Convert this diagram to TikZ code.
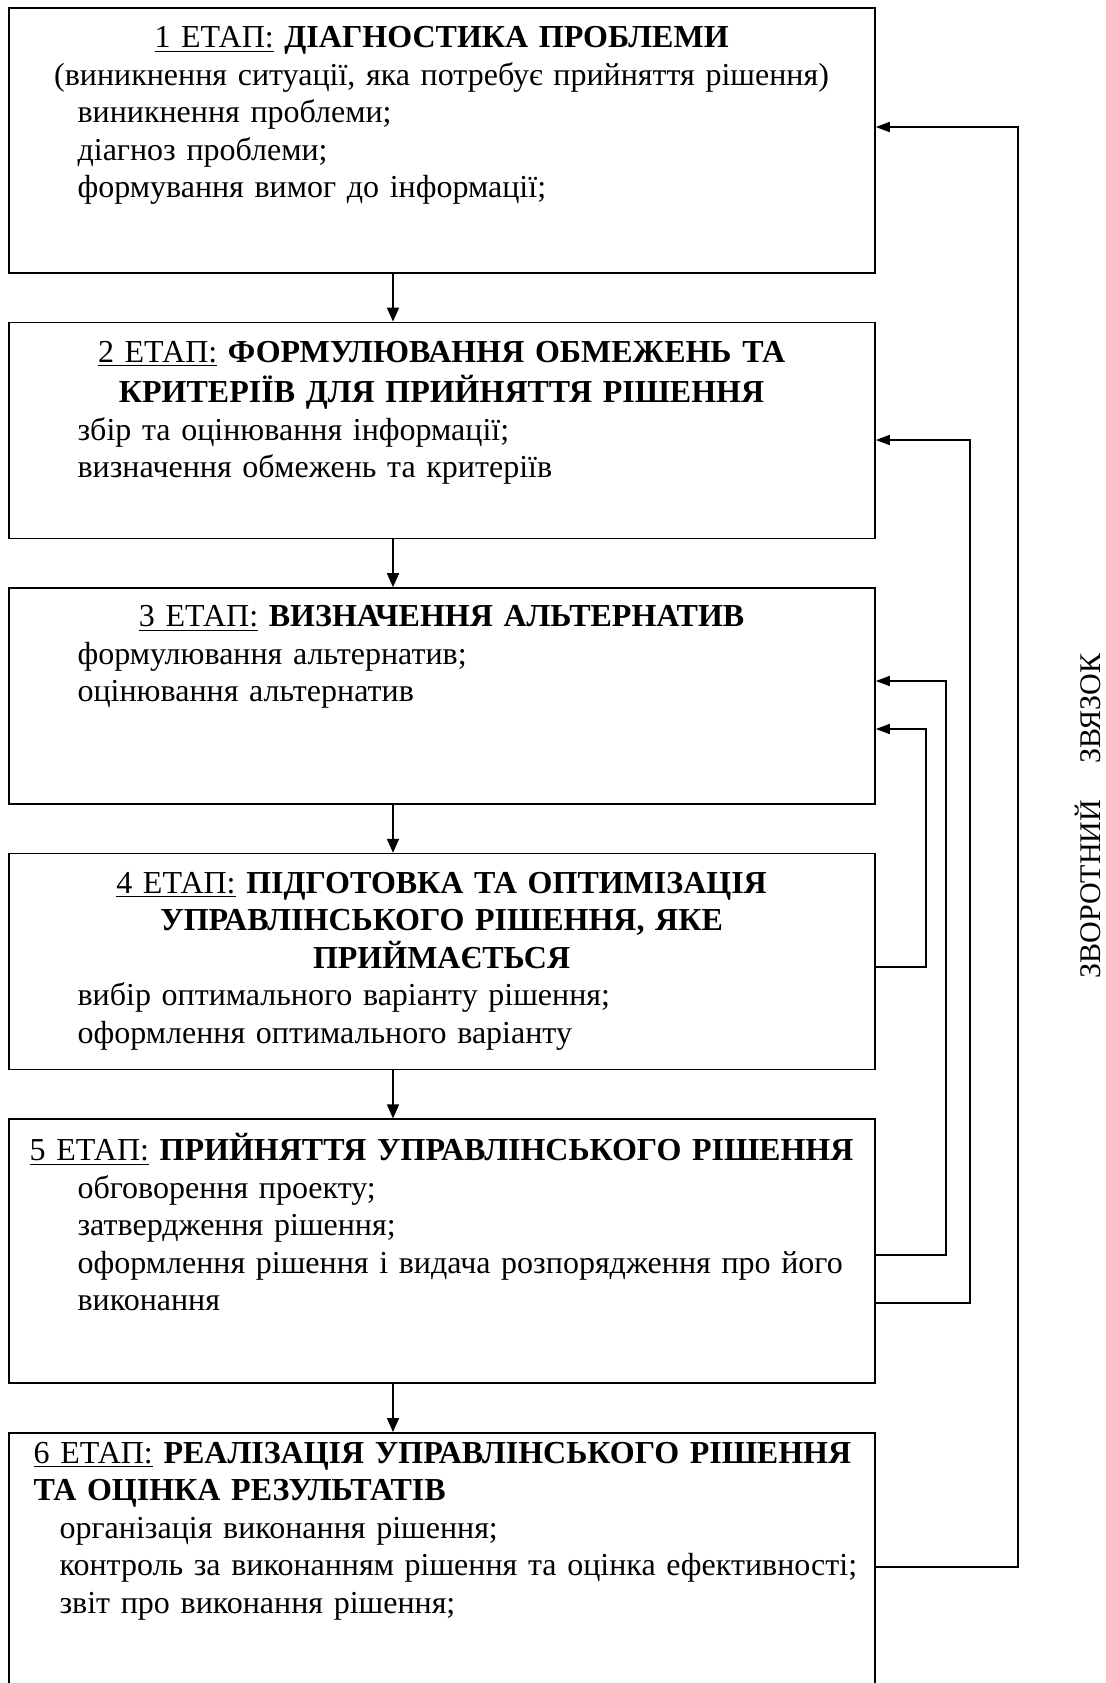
\documentclass[tikz,border=0pt]{standalone}
\usepackage{fontspec}
\setmainfont{Liberation Serif}
\usetikzlibrary{arrows.meta,positioning}

\begin{document}
\begin{tikzpicture}[
  x=0.5pt,y=-0.5pt,
  stage/.style={draw,line width=0.8pt,minimum width=433pt,inner sep=0pt},
  txt/.style={anchor=north west,inner sep=0pt,text width=433pt,
              font=\fontsize{16}{18.75}\selectfont},
  flow/.style={line width=0.8pt,-{Triangle[length=7pt,width=6pt]}},
  back/.style={line width=0.8pt,-{Triangle[length=7pt,width=5pt]}},
]
  \useasboundingbox (0,0) rectangle (1105,1683);
  \clip (0,0) rectangle (1105,1683);

  % Stage boxes
  \node[stage,minimum height=132.5pt,anchor=north] (b1) at (442,7) {};
  \node[stage,minimum height=108pt,below=24pt of b1] (b2) {};
  \node[stage,minimum height=108pt,below=24pt of b2] (b3) {};
  \node[stage,minimum height=108pt,below=24pt of b3] (b4) {};
  \node[stage,minimum height=132pt,below=24pt of b4] (b5) {};
  \node[stage,minimum height=140pt,below=24pt of b5] (b6) {};

  % Stage texts
  \node[txt] (t1) at ([yshift=-7pt]b1.north west) {%
    {\centering\strut\underline{1 ЕТАП:} \textbf{ДІАГНОСТИКА ПРОБЛЕМИ}\\
    (виникнення ситуації, яка потребує прийняття рішення)\par}
    \raggedright\leftskip=34.5pt
    виникнення проблеми;\\
    діагноз проблеми;\\
    формування вимог до інформації;\par};
  \node[txt] (t2) at ([yshift=-7pt]b2.north west) {%
    {\centering\strut\underline{2 ЕТАП:} \textbf{ФОРМУЛЮВАННЯ ОБМЕЖЕНЬ ТА}\\
    \textbf{КРИТЕРІЇВ ДЛЯ ПРИЙНЯТТЯ РІШЕННЯ}\par}
    \raggedright\leftskip=34.5pt
    збір та оцінювання інформації;\\
    визначення обмежень та критеріїв\par};
  \node[txt] (t3) at ([yshift=-6.5pt]b3.north west) {%
    {\centering\strut\underline{3 ЕТАП:} \textbf{ВИЗНАЧЕННЯ АЛЬТЕРНАТИВ}\par}
    \raggedright\leftskip=34.5pt
    формулювання альтернатив;\\
    оцінювання альтернатив\par};
  \node[txt] (t4) at ([yshift=-7pt]b4.north west) {%
    {\centering\strut\underline{4 ЕТАП:} \textbf{ПІДГОТОВКА ТА ОПТИМІЗАЦІЯ}\\
    \textbf{УПРАВЛІНСЬКОГО РІШЕННЯ, ЯКЕ}\\
    \textbf{ПРИЙМАЄТЬСЯ}\par}
    \raggedright\leftskip=34.5pt
    вибір оптимального варіанту рішення;\\
    оформлення оптимального варіанту\par};
  \node[txt] (t5) at ([yshift=-7.4pt]b5.north west) {%
    {\centering\strut\underline{5 ЕТАП:} \textbf{ПРИЙНЯТТЯ УПРАВЛІНСЬКОГО РІШЕННЯ}\par}
    \raggedright\leftskip=34.5pt
    обговорення проекту;\\
    затвердження рішення;\\
    оформлення рішення і видача розпорядження про його\\
    виконання\par};
  \node[txt] (t6) at ([yshift=-2.4pt]b6.north west) {%
    {\raggedright\leftskip=12.5pt
    \strut\underline{6 ЕТАП:} \textbf{РЕАЛІЗАЦІЯ УПРАВЛІНСЬКОГО РІШЕННЯ}\\
    \textbf{ТА ОЦІНКА РЕЗУЛЬТАТІВ}\par}
    \raggedright\leftskip=25.5pt
    організація виконання рішення;\\
    контроль за виконанням рішення та оцінка ефективності;\\
    звіт про виконання рішення;\par};

  % Arrows between stages
  \coordinate (ax) at (393,0);
  \draw[flow] (b1.south -| ax) -- (b2.north -| ax);
  \draw[flow] (b2.south -| ax) -- (b3.north -| ax);
  \draw[flow] (b3.south -| ax) -- (b4.north -| ax);
  \draw[flow] (b4.south -| ax) -- (b5.north -| ax);
  \draw[flow] (b5.south -| ax) -- (b6.north -| ax);

  % Feedback lines
  \draw[back] (b6.east |- 0,1567) -| (1018,127) -- (b1.east |- 0,127);
  \draw[back] (b5.east |- 0,1303) -| (970,440) -- (b2.east |- 0,440);
  \draw[back] (b5.east |- 0,1255) -| (946,681) -- (b3.east |- 0,681);
  \draw[back] (b4.east |- 0,967) -| (926,729) -- (b3.east |- 0,729);

  % Feedback label
  \node[rotate=90,inner sep=0pt,font=\fontsize{15}{18.75}\selectfont] (fb) at (1088,816)
    {ЗВОРОТНИЙ\hspace{18pt}ЗВЯЗОК};
\end{tikzpicture}
\end{document}
